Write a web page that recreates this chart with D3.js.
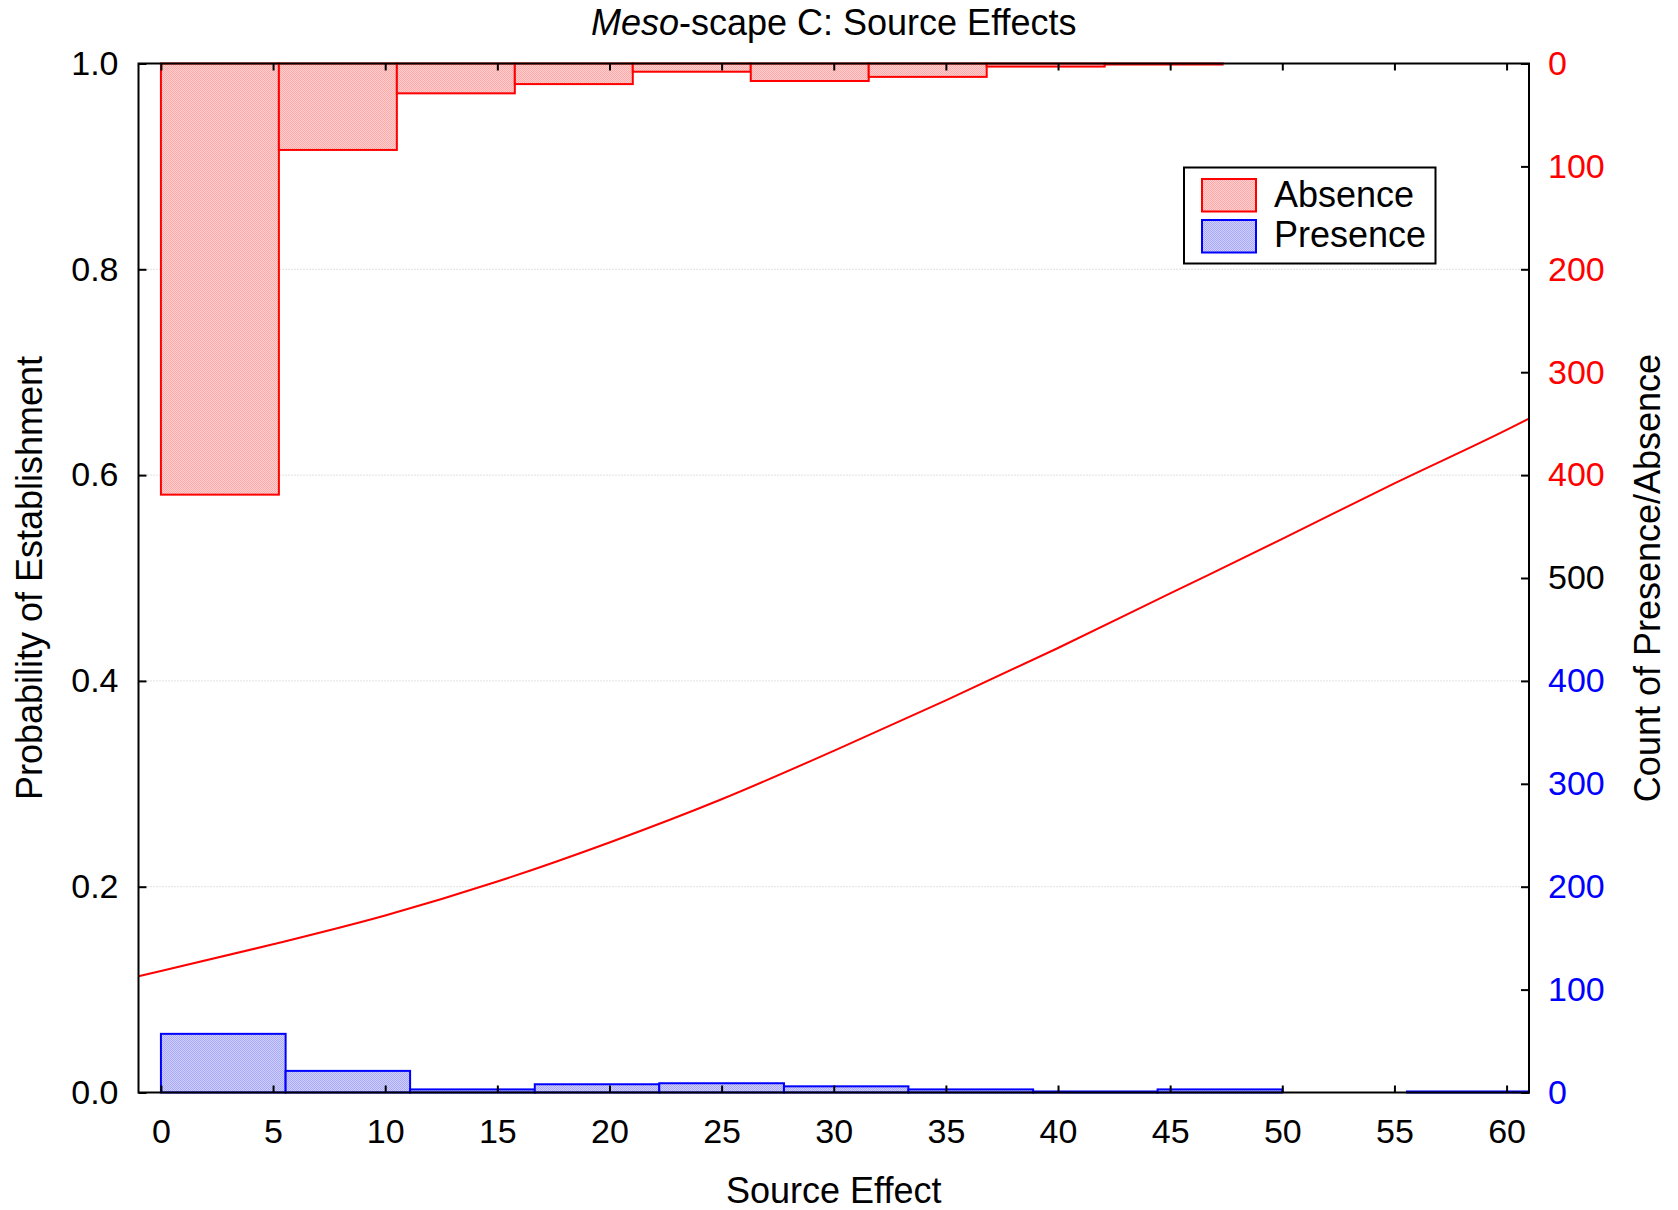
<!DOCTYPE html>
<html>
<head>
<meta charset="utf-8">
<script src="https://cdn.jsdelivr.net/npm/d3@7"></script>
<style>
  html, body { margin: 0; padding: 0; background: #fff; }
  svg text { font-family: "Liberation Sans", Arial, sans-serif; }
</style>
</head>
<body>
<svg id="chart" width="1678" height="1210"></svg>
<script>
// Fitted probability of establishment along the source-effect gradient
const curveX = [-1, 0, 5, 10, 15, 20, 25, 30, 35, 40, 45, 50, 55, 60, 61];
const curveP = [0.113, 0.118, 0.144, 0.172, 0.205, 0.243, 0.285, 0.332, 0.381, 0.432, 0.485, 0.538, 0.592, 0.644, 0.655];

// Histogram of absences (hanging from the top axis)
const absenceEdges  = [0, 5.26, 10.52, 15.78, 21.04, 26.30, 31.56, 36.82, 42.08, 47.34, 52.60, 57.86];
const absenceCounts = [419, 84, 29, 20, 8, 17, 13, 3, 1, 0, 0];

// Histogram of presences (standing on the bottom axis)
const presenceEdges  = [0, 5.56, 11.11, 16.67, 22.22, 27.78, 33.33, 38.89, 44.44, 50.00, 55.56, 61.11];
const presenceCounts = [57, 21, 3, 8, 9, 6, 3, 1, 3, 0, 1];

// Axis ticks and labels
const xTicks = [0, 5, 10, 15, 20, 25, 30, 35, 40, 45, 50, 55, 60];
const yTicks = [0, 0.2, 0.4, 0.6, 0.8, 1.0];
const gridTicks = [0.2, 0.4, 0.6, 0.8];
const absenceCountTicks = [0, 100, 200, 300, 400];
const midCountTick = 500;
const presenceCountTicks = [0, 100, 200, 300, 400];
const legendLabels = ["Absence", "Presence"];

const RED = "#ff0000", BLUE = "#0000ff";
const FS_TICK = 34;
const FS_TEXT = 36;

const svg = d3.select("#chart");
const plot = { left: 138.5, right: 1529, top: 63.5, bottom: 1092.5 };

const x = d3.scaleLinear().domain([-1, 61]).range([plot.left, plot.right]);
const y = d3.scaleLinear().domain([0, 1]).range([plot.bottom, plot.top]);
const absY = d3.scaleLinear().domain([0, 1000]).range([plot.top, plot.bottom]);
const preY = d3.scaleLinear().domain([0, 1000]).range([plot.bottom, plot.top]);

// fine textured fills for the bars
const defs = svg.append("defs");
function texture(id, base, dot) {
  const p = defs.append("pattern").attr("id", id).attr("patternUnits", "userSpaceOnUse")
    .attr("width", 2).attr("height", 2);
  p.append("rect").attr("width", 2).attr("height", 2).attr("fill", base);
  p.append("rect").attr("width", 1).attr("height", 1).attr("fill", dot);
  p.append("rect").attr("x", 1).attr("y", 1).attr("width", 1).attr("height", 1).attr("fill", dot);
}
texture("fillRed", "#ffd0d0", "#ffa8a8");
texture("fillBlue", "#d0d0ff", "#a8a8f5");

// dotted horizontal grid
svg.append("g").selectAll("line").data(gridTicks).join("line")
  .attr("x1", plot.left).attr("x2", plot.right)
  .attr("y1", d => y(d)).attr("y2", d => y(d))
  .attr("stroke", "#c4c4c4").attr("stroke-width", 1).attr("stroke-dasharray", "1,2");

// absence bars
const absData = absenceCounts.map((c, i) => ({ x0: absenceEdges[i], x1: absenceEdges[i + 1], c }));
svg.append("g").selectAll("rect").data(absData).join("rect")
  .attr("x", d => x(d.x0)).attr("width", d => x(d.x1) - x(d.x0))
  .attr("y", plot.top).attr("height", d => absY(d.c) - plot.top)
  .attr("fill", "url(#fillRed)").attr("stroke", RED).attr("stroke-width", 2);

// presence bars
const preData = presenceCounts.map((c, i) => ({ x0: presenceEdges[i], x1: presenceEdges[i + 1], c }));
svg.append("g").selectAll("rect").data(preData).join("rect")
  .attr("x", d => x(d.x0)).attr("width", d => Math.min(x(d.x1), plot.right) - x(d.x0))
  .attr("y", d => preY(d.c)).attr("height", d => plot.bottom - preY(d.c))
  .attr("fill", "url(#fillBlue)").attr("stroke", BLUE).attr("stroke-width", 2);

// fitted curve
const line = d3.line().x(d => x(d[0])).y(d => y(d[1])).curve(d3.curveMonotoneX);
svg.append("path").datum(curveX.map((v, i) => [v, curveP[i]]))
  .attr("d", line).attr("fill", "none").attr("stroke", RED).attr("stroke-width", 2);

// axes
function styleAxis(g) {
  g.select(".domain").remove();
  g.selectAll(".tick line").attr("stroke", "#000").attr("stroke-width", 2);
  g.selectAll("text").attr("font-size", FS_TICK).attr("fill", "#000");
}
svg.append("g").attr("transform", `translate(0,${plot.bottom})`)
  .call(d3.axisBottom(x).tickValues(xTicks).tickSize(-7).tickPadding(26).tickFormat(d3.format("d")))
  .call(styleAxis);
svg.append("g").attr("transform", `translate(0,${plot.top})`)
  .call(d3.axisTop(x).tickValues(xTicks).tickSize(-7).tickFormat(""))
  .call(styleAxis);
svg.append("g").attr("transform", `translate(${plot.left},0)`)
  .call(d3.axisLeft(y).tickValues(yTicks).tickSize(-8).tickPadding(20).tickFormat(d3.format(".1f")))
  .call(styleAxis);

// right count axis: absences from the top, presences from the bottom
const rightA = svg.append("g").attr("transform", `translate(${plot.right},0)`)
  .call(d3.axisRight(absY).tickValues(absenceCountTicks.concat([midCountTick])).tickSize(-8).tickPadding(19))
  .call(styleAxis);
rightA.selectAll("text").attr("fill", d => d === midCountTick ? "#000" : RED);
const rightP = svg.append("g").attr("transform", `translate(${plot.right},0)`)
  .call(d3.axisRight(preY).tickValues(presenceCountTicks).tickSize(-8).tickPadding(19))
  .call(styleAxis);
rightP.selectAll("text").attr("fill", BLUE);

// frame
svg.append("rect").attr("x", plot.left).attr("y", plot.top)
  .attr("width", plot.right - plot.left).attr("height", plot.bottom - plot.top)
  .attr("fill", "none").attr("stroke", "#000").attr("stroke-width", 2);

// title
const cx = (plot.left + plot.right) / 2;
const title = svg.append("text").attr("x", cx).attr("y", 35).attr("text-anchor", "middle").attr("font-size", FS_TEXT);
title.append("tspan").attr("font-style", "italic").text("Meso");
title.append("tspan").text("-scape C: Source Effects");

// axis titles
svg.append("text").attr("x", cx).attr("y", 1203).attr("text-anchor", "middle")
  .attr("font-size", FS_TEXT).text("Source Effect");
svg.append("text").attr("transform", `translate(41.5,${(plot.top + plot.bottom) / 2}) rotate(-90)`)
  .attr("text-anchor", "middle").attr("font-size", FS_TEXT).text("Probability of Establishment");
svg.append("text").attr("transform", `translate(1660,${(plot.top + plot.bottom) / 2}) rotate(-90)`)
  .attr("text-anchor", "middle").attr("font-size", FS_TEXT).text("Count of Presence/Absence");

// legend
const leg = svg.append("g");
leg.append("rect").attr("x", 1184).attr("y", 167.5).attr("width", 251.5).attr("height", 96)
  .attr("fill", "#fff").attr("stroke", "#000").attr("stroke-width", 2);
const legFills = ["url(#fillRed)", "url(#fillBlue)"];
const legStrokes = [RED, BLUE];
legendLabels.forEach((lab, i) => {
  leg.append("rect").attr("x", 1202).attr("y", 179 + i * 41).attr("width", 54).attr("height", 32.5)
    .attr("fill", legFills[i]).attr("stroke", legStrokes[i]).attr("stroke-width", 2);
  leg.append("text").attr("x", 1274).attr("y", 207 + i * 40).attr("font-size", FS_TEXT).text(lab);
});
</script>
</body>
</html>
